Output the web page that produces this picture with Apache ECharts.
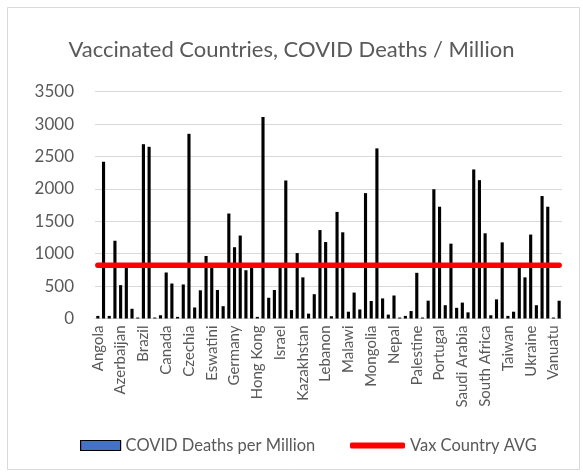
<!DOCTYPE html>
<html>
<head>
<meta charset="utf-8">
<script src="https://cdn.jsdelivr.net/npm/echarts@6/dist/echarts.min.js"></script>
<style>
html,body{margin:0;padding:0;background:#fff;}
#chart{width:583px;height:473px;}
</style>
</head>
<body>
<div id="chart"></div>
<script>
const countries = [
  'Angola','Argentina','Armenia','Australia','Azerbaijan','Bahrain','Bangladesh','Bolivia',
  'Brazil','Brunei','Cambodia','Cameroon','Canada','Chile','China','Colombia',
  'Czechia','Denmark','Ecuador','Egypt','Eswatini','Finland','France','Georgia',
  'Germany','Greece','Guatemala','Honduras','Hong Kong','Hungary','India','Indonesia',
  'Israel','Italy','Japan','Jordan','Kazakhstan','Kenya','Kuwait','Latvia',
  'Lebanon','Lesotho','Libya','Lithuania','Malawi','Malaysia','Maldives','Mexico',
  'Mongolia','Montenegro','Morocco','Namibia','Nepal','Netherlands','New Zealand','Pakistan',
  'Palestine','Panama','Peru','Philippines','Portugal','Qatar','Romania','Russia',
  'Saudi Arabia','Serbia','Singapore','Slovakia','South Africa','South Korea','Spain','Sri Lanka',
  'Taiwan','Thailand','Tunisia','Turkey','Ukraine','UAE','United Kingdom','Uruguay',
  'Vanuatu','Vietnam'
];
const deathsPerMillion = [
  40, 2420, 40, 1200, 515, 800, 150, 15,
  2690, 2650, 15, 50, 710, 540, 25, 525,
  2850, 170, 435, 965, 800, 440, 190, 1620,
  1100, 1280, 745, 850, 25, 3110, 320, 440,
  800, 2130, 130, 1010, 635, 75, 375, 1365,
  1180, 35, 1645, 1330, 105, 400, 140, 1935,
  270, 2625, 310, 60, 355, 15, 40, 115,
  705, 15, 275, 1995, 1725, 205, 1155, 165,
  245, 95, 2300, 2135, 1315, 50, 295, 1175,
  40, 105, 800, 635, 1295, 205, 1890, 1725,
  15, 275
];
const vaxCountryAvg = 820;
const avgLine = countries.map(() => vaxCountryAvg);
const yTicks = { min: 0, max: 3500, interval: 500 };

const FONT = 'Lato, "Open Sans", sans-serif';
const TXT = '#595959';

const chart = echarts.init(document.getElementById('chart'), null, {renderer: 'canvas'});
chart.setOption({
  backgroundColor: '#fff',
  animation: false,
  graphic: [{
    type: 'rect', left: 5, top: 5,
    shape: {width: 572, height: 462},
    style: {fill: 'none', stroke: '#d9d9d9', lineWidth: 1}
  }],
  title: {
    text: 'Vaccinated Countries, COVID Deaths / Million',
    left: 'center', top: 34,
    textStyle: {fontFamily: FONT, fontSize: 22, fontWeight: 'normal', color: TXT}
  },
  legend: [{
    left: 80, top: 437, padding: 0,
    itemWidth: 40, itemHeight: 10,
    icon: 'rect',
    textStyle: {fontFamily: FONT, fontSize: 16.5, color: TXT},
    data: [{name: 'COVID Deaths per Million', icon: 'rect', itemStyle: {color: '#4472C4', borderColor: '#000', borderWidth: 1.2}}]
  }, {
    left: 350, top: 437, padding: 0,
    itemWidth: 55, itemHeight: 6,
    textStyle: {fontFamily: FONT, fontSize: 16.5, color: TXT},
    data: [{name: 'Vax Country AVG', icon: 'roundRect', itemStyle: {color: '#ff0000'}}]
  }],
  grid: {left: 95, right: 21, top: 91.7, bottom: 154.5, containLabel: false},
  xAxis: {
    type: 'category',
    data: countries,
    axisLine: {lineStyle: {color: '#d9d9d9', width: 1}},
    axisTick: {show: false},
    axisLabel: {
      interval: 3, rotate: 90, color: TXT, fontFamily: FONT, fontSize: 15, margin: 7
    }
  },
  yAxis: {
    type: 'value',
    min: yTicks.min, max: yTicks.max, interval: yTicks.interval,
    axisLine: {show: false},
    axisTick: {show: false},
    splitLine: {lineStyle: {color: '#d9d9d9', width: 1}},
    axisLabel: {color: TXT, fontFamily: FONT, fontSize: 17, margin: 21, formatter: v => String(v)}
  },
  series: [{
    name: 'COVID Deaths per Million',
    type: 'bar',
    data: deathsPerMillion,
    barWidth: '55%',
    itemStyle: {color: '#000'}
  }, {
    name: 'Vax Country AVG',
    type: 'line',
    data: avgLine,
    symbol: 'none',
    lineStyle: {color: '#ff0000', width: 5.5, cap: 'round'},
    itemStyle: {color: '#ff0000'},
    z: 5
  }]
});
</script>
</body>
</html>
